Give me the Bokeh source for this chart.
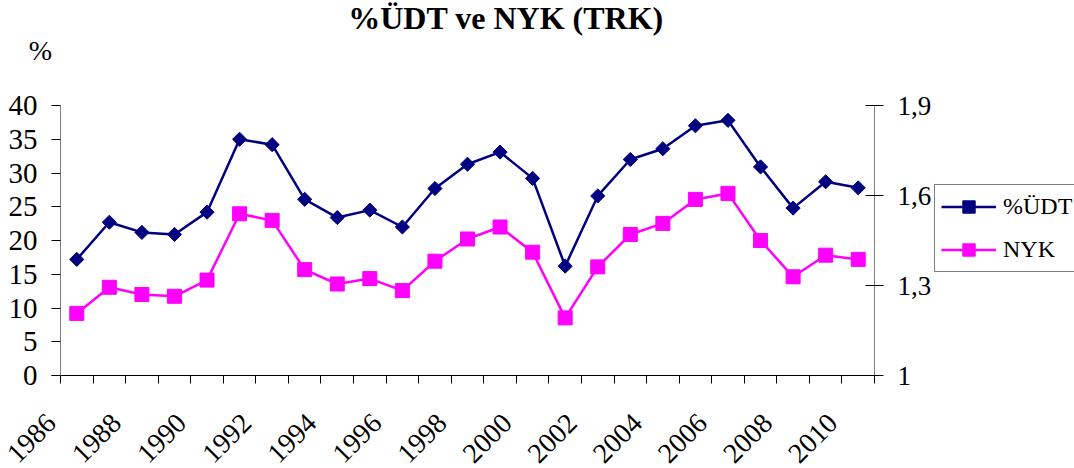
import numpy as np
from bokeh.plotting import figure
from bokeh.models import Range1d, LinearAxis, FixedTicker, Legend, LegendItem, Label
from bokeh.embed import file_html
from bokeh.resources import INLINE

# ---- data ----
years = list(range(1986, 2011))
udt = [17.2, 22.7, 21.2, 20.9, 24.2, 35.0, 34.2, 26.1, 23.4, 24.5, 22.0, 27.7,
       31.3, 33.1, 29.2, 16.2, 26.6, 32.0, 33.6, 37.0, 37.8, 30.9, 24.8, 28.7, 27.8]
nyk = [1.207, 1.294, 1.270, 1.264, 1.318, 1.539, 1.517, 1.353, 1.305, 1.323, 1.283, 1.381,
       1.455, 1.495, 1.411, 1.192, 1.362, 1.470, 1.507, 1.587, 1.607, 1.450, 1.329, 1.401, 1.387]
left_ticks = [0, 5, 10, 15, 20, 25, 30, 35, 40]
right_ticks = [1.0, 1.3, 1.6, 1.9]
right_tick_labels = ["1", "1,3", "1,6", "1,9"]
series_names = ["%ÜDT", "NYK"]
title_text = "%ÜDT ve NYK (TRK)"
unit_text = "%"

FONT = "Liberation Serif"
NAVY = "#000080"
MAGENTA = "#FF00FF"

# ---- layout constants (pixels) ----
CANVAS_W, CANVAS_H = 1074, 468
PX_LEFT, PX_PLOT_W = 60, 814          # plot area left edge / width
PX_TOP, PX_PLOT_H = 105, 270          # plot area top edge / height
PX_BOTTOM = CANVAS_H - PX_TOP - PX_PLOT_H
PX_RIGHT = CANVAS_W - PX_LEFT - PX_PLOT_W

n = len(years)
ppu_x = PX_PLOT_W / n
lmin, lmax = left_ticks[0], left_ticks[-1]
rmin, rmax = right_ticks[0], right_ticks[-1]
ppu_l = PX_PLOT_H / (lmax - lmin)
ppu_r = PX_PLOT_H / (rmax - rmin)

x_range = Range1d(-PX_LEFT / ppu_x, n + PX_RIGHT / ppu_x)
y_range = Range1d(lmin - PX_BOTTOM / ppu_l, lmax + PX_TOP / ppu_l)


def sx(px):  # canvas x pixel -> data x
    return -PX_LEFT / ppu_x + px / ppu_x


def sy(py):  # canvas y pixel -> left data y
    return lmin + (PX_TOP + PX_PLOT_H - py) / ppu_l


xs = [i + 0.5 for i in range(n)]
LABEL_SHIFT = 0.78  # visual shift of rotated year labels

p = figure(frame_width=CANVAS_W, frame_height=CANVAS_H, title=None,
           x_range=x_range, y_range=y_range,
           output_backend="svg", toolbar_location=None,
           min_border_left=0, min_border_right=0, min_border_top=0, min_border_bottom=0)
p.extra_y_ranges = {"r": Range1d(rmin - PX_BOTTOM / ppu_r, rmax + PX_TOP / ppu_r)}
p.outline_line_color = None
p.xgrid.grid_line_color = None
p.ygrid.grid_line_color = None
p.background_fill_color = "white"
p.border_fill_color = "white"

# x axis
lab_pairs = [(x - LABEL_SHIFT, y) for x, y in zip(xs, years) if y % 2 == 0]
p.xaxis.fixed_location = lmin
p.xaxis.ticker = FixedTicker(ticks=[a for a, _ in lab_pairs],
                             minor_ticks=list(range(0, n + 1)))
p.xaxis.bounds = (-0.29, n)
p.xaxis.major_label_overrides = {a: str(y) for a, y in lab_pairs}
p.xaxis.major_label_orientation = np.pi / 4
p.xaxis.major_tick_in = 0
p.xaxis.major_tick_out = 0
p.xaxis.minor_tick_in = 0
p.xaxis.minor_tick_out = 8
p.xaxis.minor_tick_line_color = "#000000"
p.xaxis.axis_line_color = "#000000"
p.xaxis.major_label_standoff = 35
p.xaxis.major_label_text_font = FONT
p.xaxis.major_label_text_font_size = "28px"
p.xaxis.major_label_text_color = "#000000"

# left axis
p.yaxis.fixed_location = 0
p.yaxis.bounds = (lmin, lmax)
p.yaxis.ticker = FixedTicker(ticks=left_ticks)
p.yaxis.major_tick_in = 0
p.yaxis.major_tick_out = 9
p.yaxis.minor_tick_in = 0
p.yaxis.minor_tick_out = 0
p.yaxis.axis_line_color = "#808080"
p.yaxis.major_tick_line_color = "#000000"
p.yaxis.major_label_standoff = 14
p.yaxis.major_label_text_font = FONT
p.yaxis.major_label_text_font_size = "29px"
p.yaxis.major_label_text_color = "#000000"

# right axis
ra = LinearAxis(y_range_name="r", ticker=FixedTicker(ticks=right_ticks),
                major_label_overrides=dict(zip(right_ticks, right_tick_labels)),
                fixed_location=n, bounds=(rmin, rmax))
ra.major_tick_in = 9
ra.major_tick_out = 9
ra.minor_tick_in = 0
ra.minor_tick_out = 0
ra.axis_line_color = "#808080"
ra.major_tick_line_color = "#000000"
ra.major_label_standoff = 14
ra.major_label_text_font = FONT
ra.major_label_text_font_size = "27px"
ra.major_label_text_color = "#000000"
p.add_layout(ra, "right")

# series
l1 = p.line(xs, udt, line_color=NAVY, line_width=2.5)
s1 = p.scatter(xs, udt, marker="square", angle=np.pi / 4, size=10,
               fill_color=NAVY, line_color=NAVY)
l2 = p.line(xs, nyk, line_color=MAGENTA, line_width=2.5, y_range_name="r")
s2 = p.scatter(xs, nyk, marker="square", size=14, fill_color=MAGENTA,
               line_color=MAGENTA, y_range_name="r")

legend = Legend(items=[LegendItem(label=series_names[0], renderers=[l1, s1]),
                       LegendItem(label=series_names[1], renderers=[l2, s2])],
                location=(934, CANVAS_H - 272), orientation="vertical")
legend.label_text_font = FONT
legend.label_text_font_size = "24px"
legend.label_text_color = "#000000"
legend.border_line_color = "#000000"
legend.border_line_width = 1
legend.background_fill_color = "white"
legend.background_fill_alpha = 1.0
legend.glyph_width = 55
legend.glyph_height = 31
legend.label_height = 24
legend.label_standoff = 7
legend.padding = 6
legend.spacing = 12
legend.margin = 0
p.add_layout(legend)

# title & unit label
p.add_layout(Label(x=sx(505.5), y=sy(17.5), text=title_text, text_font=FONT,
                   text_font_style="bold", text_font_size="32px", text_align="center",
                   text_baseline="middle", text_color="#000000"))
p.add_layout(Label(x=sx(40), y=sy(50), text=unit_text, text_font=FONT,
                   text_font_size="28px", text_align="center", text_baseline="middle",
                   text_color="#000000"))

open("out.html", "w").write(file_html(p, INLINE))
